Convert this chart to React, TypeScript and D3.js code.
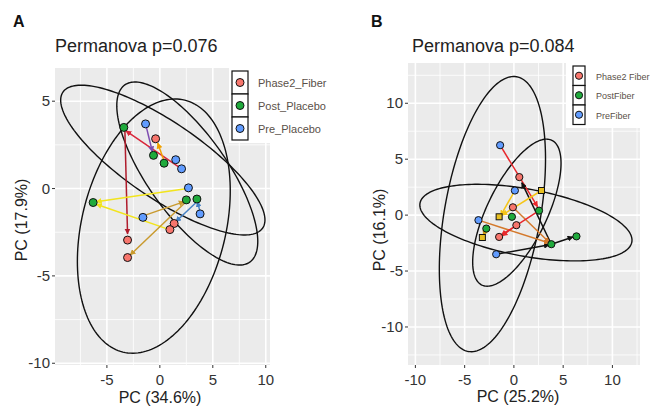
import React from 'react';
import * as d3 from 'd3';

// legend labels
const groupsA = ['Phase2_Fiber', 'Post_Placebo', 'Pre_Placebo'];
const groupsB = ['Phase2 Fiber', 'PostFiber', 'PreFiber'];
const groupColors = ['#F8766D', '#1FAA3C', '#619CFF'];

// ticks
const xTicksA = [-5, 0, 5, 10];
const yTicksA = [-10, -5, 0, 5];
const xTicksB = [-10, -5, 0, 5, 10];
const yTicksB = [-10, -5, 0, 5, 10];

// panel A points, one array per group
const phase2A = [[-0.4, 2.85], [1.35, -2.0], [0.95, -2.35], [-3.05, -2.95], [-3.05, -3.95]];
const postA = [[-3.4, 3.5], [-0.6, 1.9], [0.4, 1.45], [-6.3, -0.8], [2.5, -0.65], [3.5, -0.6]];
const preA = [[-1.35, 3.7], [1.5, 1.65], [2.05, 1.13], [2.7, 0.04], [3.8, -1.45], [-1.6, -1.65]];

// panel A arrows [x1, y1, x2, y2]
const arrowsA = [
  [2.05, 1.13, -3.2, 3.3],
  [-3.3, 3.3, -3.05, -2.6],
  [-1.35, 3.7, -0.7, 2.1],
  [0.5, 1.4, -0.2, 2.6],
  [2.6, 0.0, -6.0, -0.75],
  [0.9, -2.35, -6.0, -0.9],
  [-1.5, -1.55, 2.3, -0.75],
  [2.4, -0.8, -2.8, -3.8],
  [3.6, -0.7, 1.5, -1.9],
  [3.8, -1.35, 3.55, -0.75],
];
const arrowColorsA = ['#d9263a', '#b01c2c', '#7d4cb0', '#f0a000', '#f2e41c', '#f2e41c', '#c99a2e', '#c99a2e', '#4682c4', '#4682c4'];

// panel A ellipses [cx, cy, ux, uy, vx, vy] (centre + conjugate semi-axes)
const ellipsesA = [
  [0.28, 1.63, 9.43, -3.89, -2.02, -1.8],
  [2.59, 0.86, 5.9, -5.07, -3.08, -1.32],
  [-0.57, -2.15, -2.92, -7.21, 6.6, -0.98],
];

// panel B points
const phase2B = [[0.55, 3.4], [-0.1, 0.7], [0.25, -0.9], [-1.5, -1.95]];
const postB = [[2.55, 0.4], [-0.2, -0.15], [-2.8, -1.2], [3.8, -2.6], [6.35, -1.9]];
const preB = [[-1.4, 6.25], [0.1, 2.2], [-3.6, -0.45], [-1.8, -3.5]];
const squaresB = [[2.8, 2.2], [-1.5, -0.15], [-3.2, -2.0]];

const arrowsB = [
  [-1.4, 6.25, 2.4, 0.75],
  [3.8, -2.6, 0.8, 2.9],
  [3.8, -2.6, 6.0, -1.95],
  [-1.8, -3.5, 3.6, -2.65],
  [0.1, 2.2, -1.35, -0.05],
  [2.8, 2.2, -1.2, 0.0],
  [-3.6, -0.45, 3.6, -2.5],
  [-0.1, 0.7, 3.6, -2.45],
  [2.55, 0.4, -1.3, -1.8],
  [0.25, -0.9, -1.2, -1.85],
  [-2.8, -1.2, -3.1, -1.85],
];
const arrowColorsB = ['#e8282c', '#111111', '#111111', '#111111', '#f5c518', '#f5c518', '#d4792c', '#d4792c', '#e8282c', '#e8282c', '#d4a017'];

const ellipsesB = [
  [-2.18, 0.09, 2.45, 12.28, 4.8, -0.74],
  [0.3, 0.22, 3.55, 6.47, 2.74, -1.16],
  [1.22, -0.67, 10.75, -1.74, -0.62, -2.95],
];

const font = '"Liberation Sans", Arial, sans-serif';

function minorTicks(ticks, domain) {
  const step = ticks[1] - ticks[0];
  const out = [];
  for (let v = ticks[0] - step / 2; v <= domain[1]; v += step) {
    if (v >= domain[0]) out.push(v);
  }
  return out;
}

function Panel(props) {
  const { id, left, top, right, bottom, xDomain, yDomain, xTicks, yTicks, groups, ellipses,
    arrows, arrowColors, squares, r, legend } = props;
  const x = d3.scaleLinear().domain(xDomain).range([left, right]);
  const y = d3.scaleLinear().domain(yDomain).range([bottom, top]);
  const line = d3.line().curve(d3.curveLinearClosed);
  const ts = d3.range(0, Math.PI * 2, Math.PI / 90);
  const colors = Array.from(new Set(arrowColors));

  return (
    <g>
      <defs>
        <clipPath id={`clip-${id}`}>
          <rect x={left} y={top} width={right - left} height={bottom - top} />
        </clipPath>
        {colors.map((c, i) => (
          <marker key={c} id={`arr-${id}-${i}`} viewBox="0 0 10 10" refX="9" refY="5"
            markerWidth="6" markerHeight="6" markerUnits="userSpaceOnUse" orient="auto">
            <path d="M0,0 L10,5 L0,10 z" fill={c} />
          </marker>
        ))}
      </defs>
      <rect x={left} y={top} width={right - left} height={bottom - top} fill="#EBEBEB" />
      {minorTicks(xTicks, xDomain).map(v => (
        <line key={'mx' + v} x1={x(v)} x2={x(v)} y1={top} y2={bottom} stroke="#fff" strokeWidth={0.8} />
      ))}
      {minorTicks(yTicks, yDomain).map(v => (
        <line key={'my' + v} y1={y(v)} y2={y(v)} x1={left} x2={right} stroke="#fff" strokeWidth={0.8} />
      ))}
      {xTicks.map(v => (
        <line key={'gx' + v} x1={x(v)} x2={x(v)} y1={top} y2={bottom} stroke="#fff" strokeWidth={1.6} />
      ))}
      {yTicks.map(v => (
        <line key={'gy' + v} y1={y(v)} y2={y(v)} x1={left} x2={right} stroke="#fff" strokeWidth={1.6} />
      ))}
      <g clipPath={`url(#clip-${id})`}>
        {ellipses.map((e, i) => {
          const [cx, cy, ux, uy, vx, vy] = e;
          const pts = ts.map(t => [
            x(cx + ux * Math.cos(t) + vx * Math.sin(t)),
            y(cy + uy * Math.cos(t) + vy * Math.sin(t)),
          ]);
          return <path key={i} d={line(pts)} fill="none" stroke="#111" strokeWidth={1.4} />;
        })}
        {arrows.map((a, i) => (
          <line key={i} x1={x(a[0])} y1={y(a[1])} x2={x(a[2])} y2={y(a[3])}
            stroke={arrowColors[i]} strokeWidth={1.5}
            markerEnd={`url(#arr-${id}-${colors.indexOf(arrowColors[i])})`} />
        ))}
        {groups.map((g, gi) => g.map((p, i) => (
          <circle key={gi + '-' + i} cx={x(p[0])} cy={y(p[1])} r={r}
            fill={groupColors[gi]} stroke="#111" strokeWidth={1} />
        )))}
        {squares.map((p, i) => (
          <rect key={'s' + i} x={x(p[0]) - 3} y={y(p[1]) - 3} width={6} height={6}
            fill="#e8c020" stroke="#111" strokeWidth={1} />
        ))}
      </g>
      {xTicks.map(v => (
        <g key={'tx' + v}>
          <line x1={x(v)} x2={x(v)} y1={bottom} y2={bottom + 3} stroke="#333" />
          <text x={x(v)} y={bottom + 20} textAnchor="middle" fontSize={15} fill="#333" fontFamily={font}>{v}</text>
        </g>
      ))}
      {yTicks.map(v => (
        <g key={'ty' + v}>
          <line x1={left - 3} x2={left} y1={y(v)} y2={y(v)} stroke="#333" />
          <text x={left - 5} y={y(v) + 5} textAnchor="end" fontSize={15} fill="#333" fontFamily={font}>{v}</text>
        </g>
      ))}
      <rect x={legend.x} y={legend.y} width={legend.w} height={legend.h} fill="#fff" />
      {legend.labels.map((lab, i) => (
        <g key={lab}>
          <rect x={legend.kx} y={legend.ky + i * legend.kh} width={legend.kw} height={legend.kh}
            fill="#fff" stroke="#111" strokeWidth={1.2} />
          <circle cx={legend.kx + legend.kw / 2} cy={legend.ky + i * legend.kh + legend.kh / 2} r={r}
            fill={groupColors[i]} stroke="#111" strokeWidth={1} />
          <text x={legend.tx} y={legend.ky + i * legend.kh + legend.kh / 2 + 4} fontSize={legend.fs}
            fill="#5a5048" fontFamily={font}>{lab}</text>
        </g>
      ))}
    </g>
  );
}

export default function App() {
  return (
    <svg width={654} height={407} style={{ position: 'absolute', left: 0, top: 0, background: '#fff' }}>
      <text x={13} y={27} fontSize={16} fontWeight="bold" fontFamily={font} fill="#111">A</text>
      <text x={55} y={52} fontSize={18} fontFamily={font} fill="#222">Permanova p=0.076</text>
      <Panel id="a" left={55} top={68} right={270} bottom={365}
        xDomain={[-9.9, 10.4]} yDomain={[-10.1, 6.9]} xTicks={xTicksA} yTicks={yTicksA}
        groups={[phase2A, postA, preA]} ellipses={ellipsesA} arrows={arrowsA} arrowColors={arrowColorsA}
        squares={[]} r={4}
        legend={{ x: 229, y: 67, w: 100, h: 76, kx: 232, ky: 71, kw: 16, kh: 23, tx: 258, fs: 11, labels: groupsA }} />
      <text x={160} y={403} textAnchor="middle" fontSize={16} fontFamily={font} fill="#222">PC (34.6%)</text>
      <text transform="translate(27,220) rotate(-90)" textAnchor="middle" fontSize={16} fontFamily={font} fill="#222">PC (17.9%)</text>

      <text x={371} y={27} fontSize={16} fontWeight="bold" fontFamily={font} fill="#111">B</text>
      <text x={412} y={52} fontSize={18} fontFamily={font} fill="#222">Permanova p=0.084</text>
      <Panel id="b" left={408} top={63} right={640} bottom={365}
        xDomain={[-10.75, 12.8]} yDomain={[-13.4, 13.6]} xTicks={xTicksB} yTicks={yTicksB}
        groups={[phase2B, postB, preB]} ellipses={ellipsesB} arrows={arrowsB} arrowColors={arrowColorsB}
        squares={squaresB} r={3.6}
        legend={{ x: 566, y: 62, w: 88, h: 66, kx: 573, ky: 66, kw: 12, kh: 19.5, tx: 596, fs: 9, labels: groupsB }} />
      <text x={518} y={402} textAnchor="middle" fontSize={16} fontFamily={font} fill="#222">PC (25.2%)</text>
      <text transform="translate(385,230) rotate(-90)" textAnchor="middle" fontSize={16} fontFamily={font} fill="#222">PC (16.1%)</text>
    </svg>
  );
}
